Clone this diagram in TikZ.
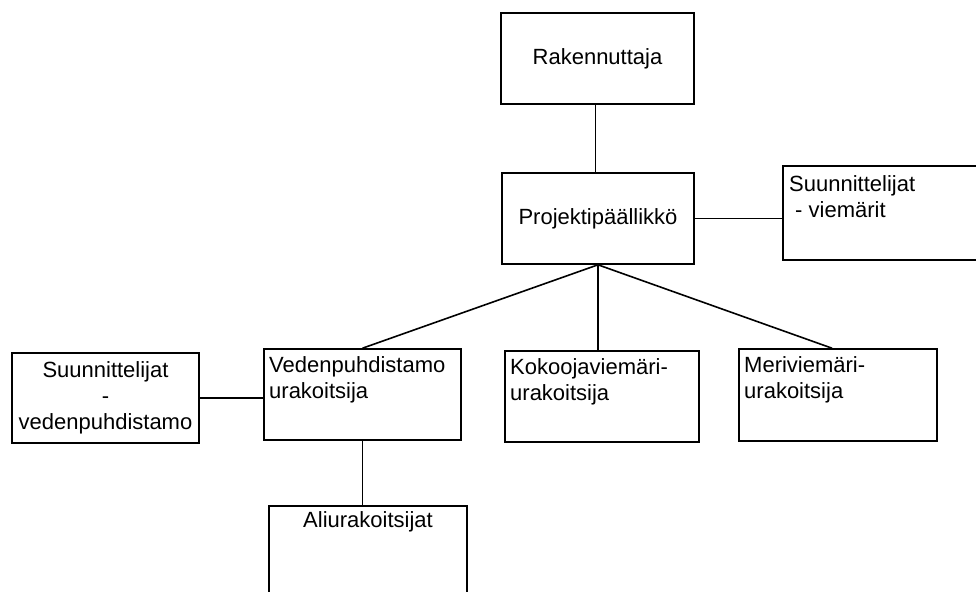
\documentclass[tikz,border=0pt]{standalone}
\usepackage{fontspec}
\setmainfont{Liberation Sans}
\begin{document}
\begin{tikzpicture}[x=1pt,y=-1pt,
  box/.style={draw, line width=1.6pt, inner sep=0pt, font=\fontsize{22}{26}\selectfont, align=center},
  lbl/.style={inner sep=0pt, font=\fontsize{22}{26}\selectfont, align=left, anchor=north west},
  conn/.style={line width=1.6pt}]
\clip (0,0) rectangle (976,591);
\fill[white] (0,0) rectangle (976,591);
% boxes
\node[box, minimum width=193pt, minimum height=91pt] (rak) at (597.5,58.5) {Rakennuttaja};
\node[box, minimum width=192pt, minimum height=91pt] (proj) at (598,218.5) {Projektipäällikkö};
\node[box, minimum width=210pt, minimum height=94pt] (sv) at (888,213) {};
\node[box, minimum width=187pt, minimum height=90pt] (svp) at (105.5,398) {Suunnittelijat\\-\\vedenpuhdistamo};
\node[box, minimum width=197pt, minimum height=91pt] (vp) at (362.5,394.5) {};
\node[box, minimum width=194pt, minimum height=91pt] (kok) at (602,396.5) {};
\node[box, minimum width=198pt, minimum height=92pt] (meri) at (838,395) {};
\node[box, minimum width=198pt, minimum height=110pt] (ali) at (368,561) {};
% texts
\node[lbl] (svt) at (789,173) {\rule{0pt}{18pt}Suunnittelijat\\\hspace*{6pt}- viemärit};
\node[lbl] (vpt) at (269,354) {\rule{0pt}{18pt}Vedenpuhdistamo\\urakoitsija};
\node[lbl] (kokt) at (510,356) {\rule{0pt}{18pt}Kokoojaviemäri-\\urakoitsija};
\node[lbl] (merit) at (744,354) {\rule{0pt}{18pt}Meriviemäri-\\urakoitsija};
\node[inner sep=0pt, font=\fontsize{22}{26}\selectfont, anchor=base] (alit) at (368,527) {Aliurakoitsijat};
% connectors
\draw[conn] ([xshift=-2pt]rak.south) -- ([xshift=-2pt]rak.south |- proj.north);
\draw[conn] (proj.east) -- (proj.east -| sv.west);
\draw[conn] (proj.south) -- (vp.north);
\draw[conn] (proj.south) -- (proj.south |- kok.north);
\draw[conn] (proj.south) -- ([xshift=-6pt]meri.north);
\draw[conn] (svp.east) -- (svp.east -| vp.west);
\draw[conn] (vp.south) -- (vp.south |- ali.north);
\end{tikzpicture}
\end{document}
